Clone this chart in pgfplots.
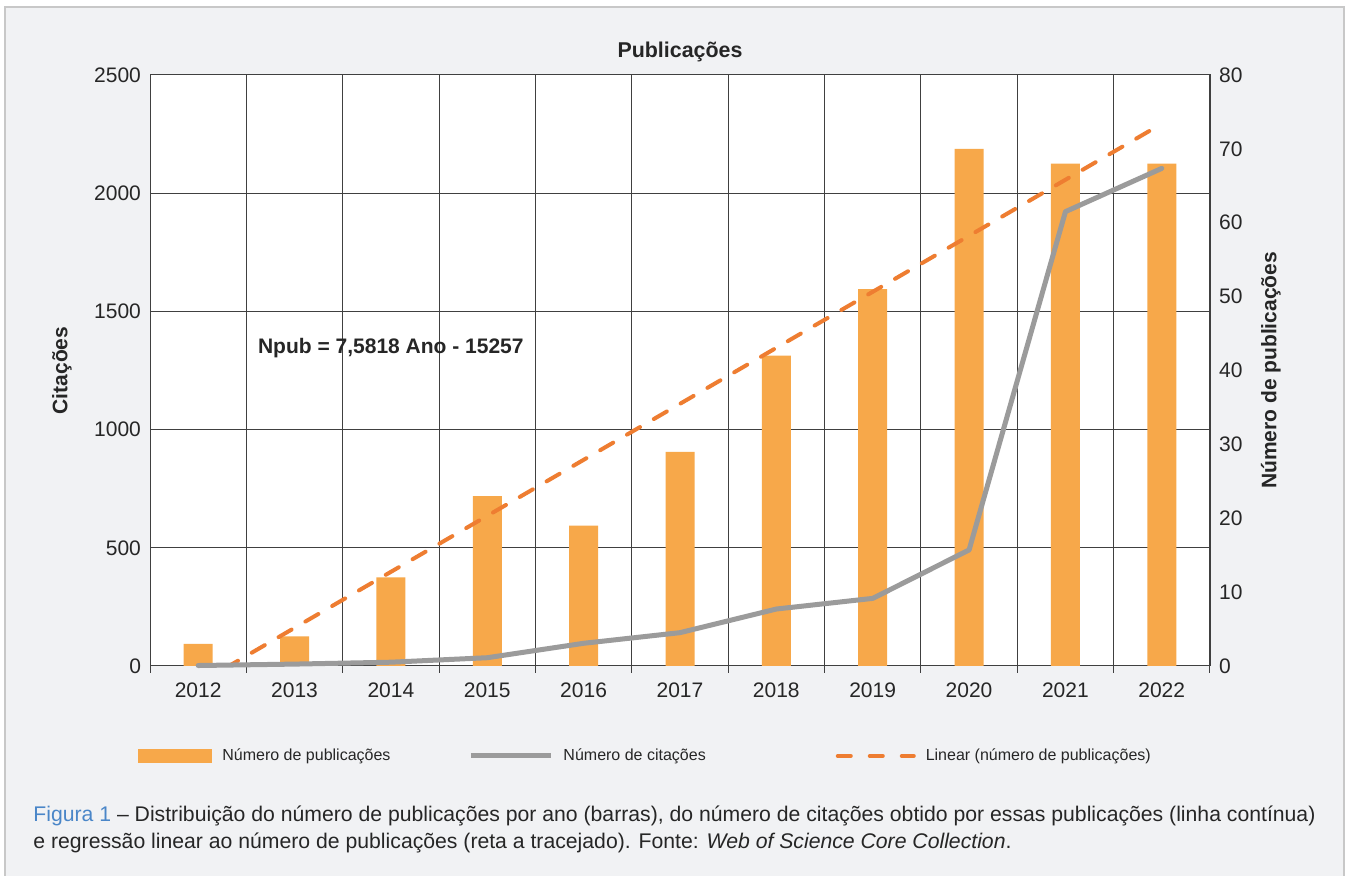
\documentclass[border=0pt]{standalone}
\usepackage{pgfplots}
\pgfplotsset{compat=1.18}
\usepackage{fontspec}
\setmainfont{Liberation Sans}

\definecolor{bg}{HTML}{F1F2F4}
\definecolor{frame}{HTML}{C8C8C8}
\definecolor{barorange}{HTML}{F7A84A}
\definecolor{trendorange}{HTML}{EE7D31}
\definecolor{citgrey}{HTML}{9B9B9B}
\definecolor{gridc}{HTML}{404040}
\definecolor{txt}{HTML}{262626}
\definecolor{figblue}{HTML}{4A86C8}

% publications per year (right axis) and citations (left axis)
\pgfplotstableread{
ano  npub  cit
2012 3     2
2013 4     8
2014 12    16
2015 23    35
2016 19    96
2017 29    141
2018 42    241
2019 51    286
2020 70    491
2021 68    1922
2022 68    2105
}\dados

\pgfplotsset{
  base/.style={
    scale only axis, width=530pt, height=295.5pt,
    at={(75pt,105pt)}, anchor=south west,
    xmin=2011.5, xmax=2022.5,
    /pgf/number format/1000 sep={},
    /pgf/number format/assume math mode=true,
    ticklabel style={font=\fontsize{10.5}{12}\selectfont, text=txt},
  },
}

\begin{document}
\begin{tikzpicture}[x=1pt,y=1pt]
\useasboundingbox (0,0) rectangle (674,438);
\fill[white] (0,0) rectangle (674,438);
\fill[bg] (2.5,0) rectangle (672,434.5);
\draw[frame, line width=1pt] (2.5,0) -- (2.5,434.5) -- (672,434.5) -- (672,0);

% grid, frame, left axis
\begin{axis}[base,
  axis background/.style={fill=white},
  ymin=0, ymax=2500, ytick={0,500,...,2500},
  xtick={2012,...,2022},
  minor xtick={2011.5,2012.5,...,2022.5},
  xtick pos=bottom, ytick pos=left,
  xminorgrids, ymajorgrids,
  major tick length=0pt, minor tick length=3.5pt, tick align=outside,
  grid style={gridc, line width=0.5pt},
  minor tick style={gridc, line width=0.5pt},
  axis line style={gridc, line width=0.5pt},
  xticklabel style={yshift=-5pt},
  yticklabel style={xshift=-1pt},
  title={Publicações},
  title style={font=\bfseries\fontsize{10.7}{12}\selectfont, text=txt, yshift=-3pt},
  ylabel={Citações},
  ylabel style={font=\bfseries\fontsize{10.5}{12}\selectfont, text=txt,
    at={(axis description cs:-0.083,0.5)}, anchor=center},
]
\end{axis}

% bars and trend line, right axis, legend
\begin{axis}[base,
  ymin=0, ymax=80, ytick={0,10,...,80},
  axis x line=none, axis y line*=right,
  major tick length=0pt,
  axis line style={gridc, line width=0.5pt},
  yticklabel style={xshift=1pt},
  ylabel={Número de publicações},
  ylabel style={font=\bfseries\fontsize{10.5}{12}\selectfont, text=txt,
    at={(axis description cs:1.0575,0.5)}, anchor=center},
  legend columns=3,
  legend cell align=left,
  legend style={draw=none, fill=none, inner sep=0pt,
    at={(axis description cs:0,0)}, anchor=west, xshift=-6pt, yshift=-45pt,
    font=\fontsize{8}{10}\selectfont, text=txt,
    /tikz/every odd column/.append style={column sep=3pt},
    /tikz/column 2/.style={column sep=37pt},
    /tikz/column 4/.style={column sep=63pt}},
]
\addplot[ybar, bar width=14.5pt, fill=barorange, draw=none,
  legend image code/.code={\fill[barorange] (0pt,-3.5pt) rectangle (37pt,3.5pt);}]
  table[x=ano, y=npub] {\dados};
\addlegendentry{Número de publicações}
\addlegendimage{citgrey, line width=2.5pt,
  legend image code/.code={\draw[citgrey, line width=2.5pt] (0pt,0pt) -- (40pt,0pt);}}
\addlegendentry{Número de citações}
\addplot[trendorange, line width=2pt, dash pattern=on 7.5pt off 8pt, line cap=round,
  legend image code/.code={\draw[trendorange, line width=2pt, dash pattern=on 6.5pt off 9.5pt, line cap=round] (1pt,0pt) -- (39pt,0pt);}]
  coordinates {(2012,-2.42) (2022,73.40)};
\addlegendentry{Linear (número de publicações)}
\end{axis}

% citations line on top
\begin{axis}[base, ymin=0, ymax=2500, hide axis, clip=false]
\addplot[citgrey, line width=2.5pt, line join=round, line cap=round]
  table[x=ano, y=cit] {\dados};
\end{axis}

\node[anchor=west, font=\bfseries\fontsize{10.5}{12}\selectfont, text=txt]
  at (125.5,264) {Npub = 7,5818 Ano - 15257};

\node[anchor=base west, font=\fontsize{10.6}{12}\selectfont, text=txt, inner sep=0pt]
  at (16.5,27) {{\color{figblue}Figura 1} – Distribuição do número de publicações por ano (barras), do número de citações obtido por essas publicações (linha contínua)};
\node[anchor=base west, font=\fontsize{10.6}{12}\selectfont, text=txt, inner sep=0pt]
  at (16.5,13.5) {e regressão linear ao número de publicações (reta a tracejado). Fonte: \textit{Web of Science Core Collection}.};
\end{tikzpicture}
\end{document}
